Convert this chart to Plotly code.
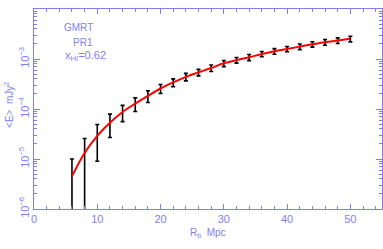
import plotly.graph_objects as go

r_b = [6, 8, 10, 12, 14, 16, 18, 20, 22, 24, 26, 28, 30, 32, 34, 36, 38, 40, 42, 44, 46, 48, 50]
e_mean = [4.5e-6, 1.32e-5, 2.9e-5, 5.3e-5, 8.7e-5, 1.28e-4, 1.83e-4, 2.57e-4, 3.4e-4, 4.4e-4,
          5.4e-4, 6.6e-4, 8.2e-4, 9.5e-4, 1.08e-3, 1.26e-3, 1.43e-3, 1.59e-3, 1.77e-3, 1.97e-3,
          2.17e-3, 2.34e-3, 2.53e-3]
e_err = [5.5e-6, 1.25e-5, 2.0e-5, 2.6e-5, 3.1e-5, 3.9e-5, 4.8e-5, 5.3e-5, 6.1e-5, 7.5e-5,
         8.1e-5, 9.9e-5, 1.15e-4, 1.24e-4, 1.5e-4, 1.5e-4, 1.86e-4, 1.9e-4, 2.3e-4, 2.4e-4,
         2.9e-4, 3.0e-4, 3.3e-4]
y_tickvals = [1e-6, 1e-5, 1e-4, 1e-3, 1e-2]
y_ticktext = ["10<sup>−6</sup>", "10<sup>−5</sup>", "10<sup>−4</sup>", "10<sup>−3</sup>", "0.01"]
x_tickvals = [0, 10, 20, 30, 40, 50]

BLUE = "#7f7fef"
FONT = "Liberation Sans, Arial, sans-serif"

fig = go.Figure()
fig.add_trace(go.Scatter(
    x=r_b, y=e_mean, mode="markers",
    marker=dict(size=1, opacity=0, color="black"),
    error_y=dict(type="data", array=e_err, color="black", thickness=1.6, width=2),
    showlegend=False, hoverinfo="skip"))
fig.add_trace(go.Scatter(
    x=r_b, y=e_mean, mode="lines",
    line=dict(color="#ff0000", width=2, shape="spline"),
    showlegend=False))

axis_common = dict(
    showline=True, linecolor=BLUE, linewidth=1, mirror="ticks",
    ticks="inside", tickcolor=BLUE, showgrid=False, zeroline=False, automargin=False,
    tickfont=dict(color=BLUE, size=11, family=FONT),
)
fig.update_xaxes(
    range=[0, 55], tickvals=x_tickvals, ticklen=5,
    minor=dict(ticks="inside", dtick=2, ticklen=3, tickcolor=BLUE),
    **axis_common)
fig.update_yaxes(
    type="log", range=[-6, -2], tickvals=y_tickvals, ticktext=y_ticktext,
    tickangle=-90, ticklen=6,
    minor=dict(ticks="inside", dtick="D1", ticklen=3, tickcolor=BLUE),
    **axis_common)

ann_font = dict(color=BLUE, size=10, family=FONT)
fig.add_annotation(x=7, y=-2.37, xref="x", yref="y", text="GMRT", showarrow=False, font=ann_font)
fig.add_annotation(x=7.7, y=-2.67, xref="x", yref="y", text="PR1", showarrow=False, font=ann_font)
fig.add_annotation(x=8.2, y=-2.93, xref="x", yref="y", text="x<sub>HI</sub>=0.62", showarrow=False,
                   font=dict(color=BLUE, size=11, family=FONT))
fig.add_annotation(x=0.5, y=-0.16, xref="paper", yref="paper", text="R<sub>b</sub>  Mpc",
                   xanchor="center", showarrow=False, font=ann_font)
fig.add_annotation(x=-0.072, y=0.52, xref="paper", yref="paper", text="<E>  mJy<sup>2</sup>",
                   xanchor="center", yanchor="middle", textangle=-90, showarrow=False, font=ann_font)

fig.update_layout(
    width=383, height=249,
    margin=dict(l=34, r=1, t=9, b=40),
    paper_bgcolor="white", plot_bgcolor="white",
    font=dict(family=FONT, color=BLUE),
)
fig.write_html("out.html", config={"displayModeBar": False},
               post_script="document.body.style.margin='0px';")
